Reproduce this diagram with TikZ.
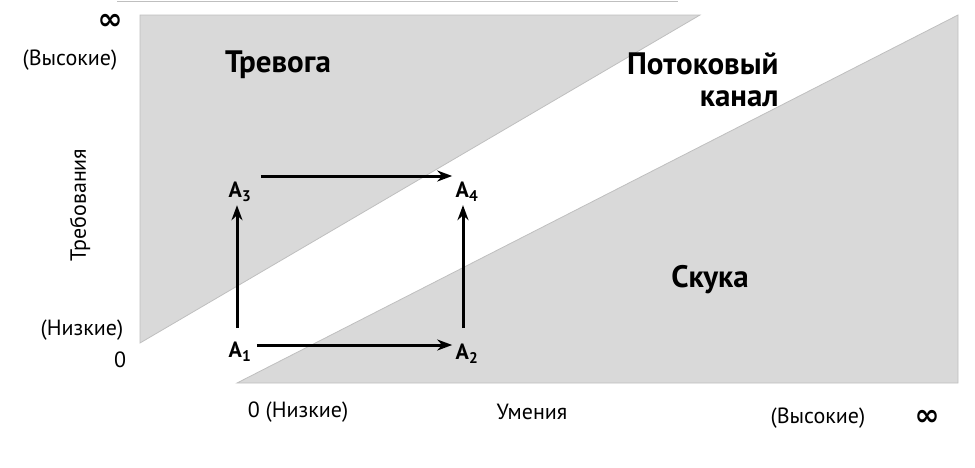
\documentclass[tikz,border=0pt]{standalone}
\usepackage{fontspec}
\setmainfont{PT Sans}
\newfontfamily\symf{DejaVu Sans}
\usetikzlibrary{arrows.meta}
\begin{document}
\begin{tikzpicture}[x=1pt,y=-1pt,
  lab/.style={font=\fontsize{22}{24}\selectfont},
  big/.style={font=\bfseries\fontsize{31}{32}\selectfont},
  pt/.style={font=\bfseries\fontsize{22}{24}\selectfont},
  inf/.style={font=\symf\bfseries\fontsize{30}{30}\selectfont},
  arr/.style={-{Stealth[length=15pt,width=11pt]},line width=3pt},
  reg/.style={fill=black!15,draw=black!25,line width=0.8pt}]
\useasboundingbox (0,0) rectangle (975,467);
\draw[black!25,line width=1pt] (117,1) -- (678,1);
\path[reg] (140,15) -- (700,15) -- (140,343) -- cycle;
\path[reg] (237,383) -- (958,383) -- (958,15) -- cycle;
\node[big] (tr) at (278,65) {Тревога};
\node[big,align=right,anchor=east] (pk) at (782,80) {Потоковый\\канал};
\node[big] (sk) at (710,280) {Скука};
\node[lab,rotate=90] (dem) at (80,205) {Требования};
\node[lab] (hi1) at (70,60) {(Высокие)};
\node[lab] (lo1) at (82,330) {(Низкие)};
\node[lab] (z1) at (120,360) {0};
\node[inf] (inf1) at (110,22) {∞};
\node[lab] (lo2) at (298,412) {0 (Низкие)};
\node[lab] (sk2) at (532,412) {Умения};
\node[lab] (hi2) at (818,418) {(Высокие)};
\node[inf] (inf2) at (927,418) {∞};
\node[pt] (a1) at (240,352) {A\textsubscript{1}};
\node[pt] (a2) at (467,354) {A\textsubscript{2}};
\node[pt] (a3) at (240,192) {A\textsubscript{3}};
\node[pt] (a4) at (467,192) {A\textsubscript{4}};
\draw[arr] (a1.east) ++(2,-7) coordinate (s1) -- (s1 -| a2.west);
\draw[arr] (a3.east) ++(6,-16) coordinate (s3) -- (s3 -| a4.west);
\draw[arr] (237,328) coordinate (s5) -- (s5 |- a3.south);
\draw[arr] (463,328) coordinate (s6) -- (s6 |- a4.south);
\end{tikzpicture}
\end{document}
